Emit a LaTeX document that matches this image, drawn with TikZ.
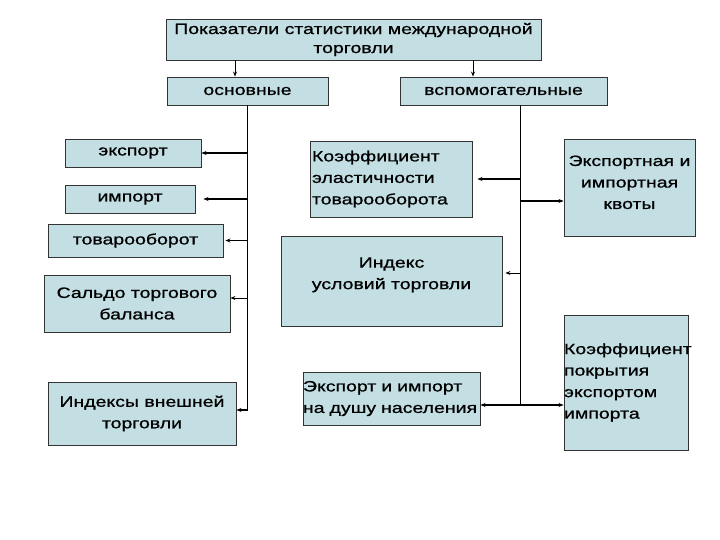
\documentclass[tikz,border=0pt]{standalone}
\usepackage{fontspec}
\setmainfont{Liberation Sans}[FakeStretch=1.3,FakeBold=0.8]
\usetikzlibrary{arrows.meta,positioning,calc}
\definecolor{BoxFill}{HTML}{C4DFE3}
\definecolor{BoxLine}{HTML}{333333}
\tikzset{
    % Plain boxes
    process/.style={
        rectangle,
        draw=BoxLine,
        line width=0.9pt,
        fill=BoxFill,
        text=black,
        align=center,
        inner sep=2pt,
        font=\fontsize{15}{21.5}\selectfont
    },
    process left/.style={
        process,
        align=left
    },
    arrow/.style={
        -{Stealth[length=5pt,width=4pt]},
        line width=1.4pt
    },
    arrow thin/.style={
        arrow,
        line width=0.8pt
    },
    trunk/.style={
        line width=0.9pt
    }
}
\begin{document}
\begin{tikzpicture}[x=1pt,y=-1pt]
    \useasboundingbox (0,0) rectangle (720,540);

    % Top levels
    \node[process, minimum width=375pt, minimum height=41pt, font=\fontsize{15}{19}\selectfont] (title) at (353.5,39.5)
        {Показатели статистики международной\\торговли};
    \node[process, minimum width=161pt, minimum height=28pt] (osn) at (247.5,91) {основные};
    \node[process, minimum width=207pt, minimum height=28pt] (vsp) at (503.5,91) {вспомогательные};

    % Main indicators
    \node[process, minimum width=136pt, minimum height=28pt] (exp) at (133,153) {экспорт};
    \node[process, minimum width=130pt, minimum height=28pt] (imp) at (130,199) {импорт};
    \node[process, minimum width=175pt, minimum height=33pt] (turn) at (135.5,240.5) {товарооборот};
    \node[process, minimum width=186pt, minimum height=57pt] (bal) at (137,303.5) {Сальдо торгового\\баланса};
    \node[process, minimum width=188pt, minimum height=63pt] (idx) at (142,413.5) {Индексы внешней\\торговли};

    % Auxiliary indicators
    \node[process left, minimum width=162pt, minimum height=76pt, text width=158pt] (elast) at (391,179)
        {Коэффициент\\эластичности\\товарооборота};
    \node[process, minimum width=221pt, minimum height=90pt] (terms) at (391.5,281)
        {Индекс\\условий торговли\\[-6pt]};
    \node[process left, minimum width=177pt, minimum height=53pt, text width=177pt, inner xsep=0pt] (percap) at (391.5,398.5)
        {Экспорт и импорт\\на душу населения};
    \node[process, minimum width=131pt, minimum height=97pt] (quota) at (629.5,187.5)
        {Экспортная и\\импортная\\квоты\\[-11pt]};
    \node[process left, minimum width=124pt, minimum height=135pt, text width=124pt, inner xsep=0pt] (cover) at (626,382.5)
        {Коэффициент\\покрытия\\экспортом\\импорта};

    % Trunks
    \coordinate (lbot) at (247.5,410);
    \coordinate (rbot) at (520,405);
    \draw[arrow thin] (title.south -| 235,0) -- (osn.north -| 235,0);
    \draw[arrow thin] (title.south -| 473,0) -- (vsp.north -| 473,0);
    \draw[trunk] (osn.south) -- (lbot);
    \draw[trunk] (vsp.south -| rbot) -- (rbot);

    % Left branches
    \draw[arrow] (lbot |- exp.east) -- (exp.east);
    \draw[arrow] (lbot |- imp.east) -- ([xshift=8pt]imp.east);
    \draw[arrow thin] (lbot |- turn.east) -- ([xshift=2pt]turn.east);
    \draw[arrow thin] (lbot |- 0,298) -- (bal.east |- 0,298);
    \draw[arrow] (lbot) -- (idx.east |- lbot);

    % Right branches
    \draw[arrow] (rbot |- elast.east) -- ([xshift=5pt]elast.east);
    \draw[arrow] (rbot |- 0,201) -- (quota.west |- 0,201);
    \draw[arrow thin] (rbot |- 0,273) -- ([xshift=3pt]terms.east |- 0,273);
    \draw[arrow] (rbot) -- (cover.west |- rbot);
    \draw[arrow] (rbot) -- (percap.east |- rbot);
\end{tikzpicture}
\end{document}
